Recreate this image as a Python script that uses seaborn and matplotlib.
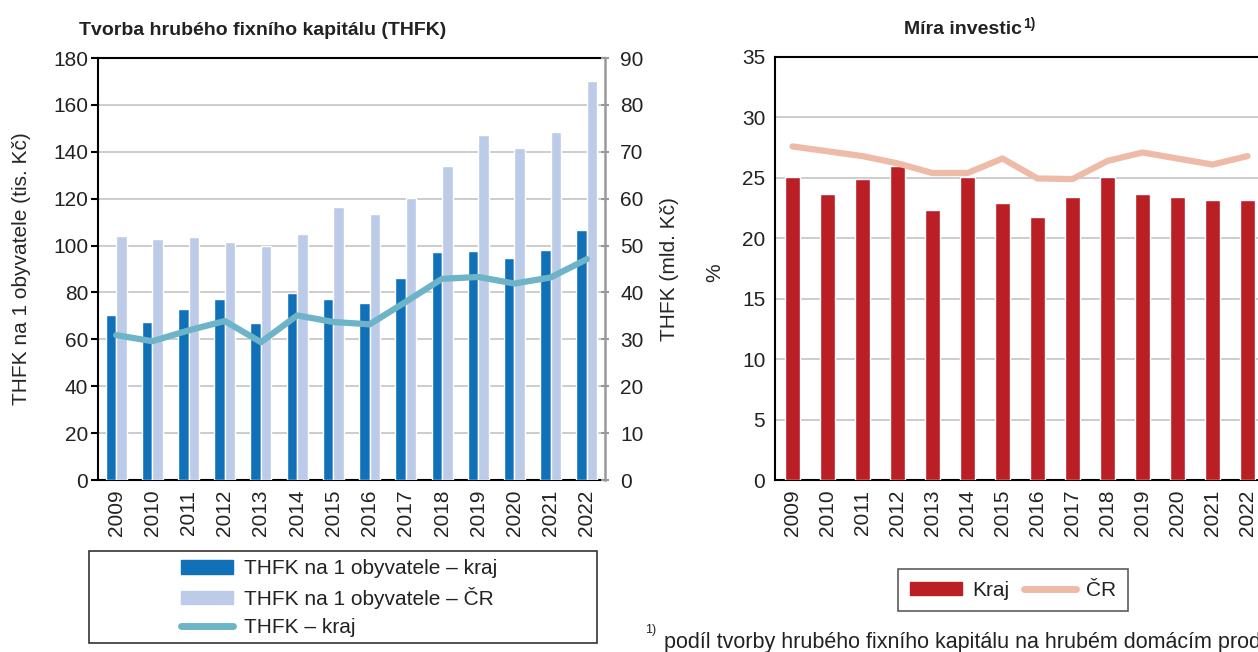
import numpy as np
import pandas as pd
import matplotlib
matplotlib.use("Agg")
import matplotlib.pyplot as plt
from matplotlib.patches import Patch, Rectangle
from matplotlib.lines import Line2D
import seaborn as sns

# data
roky = ["2009", "2010", "2011", "2012", "2013", "2014", "2015",
        "2016", "2017", "2018", "2019", "2020", "2021", "2022"]
thfk_obyv_kraj = [70.5, 67.5, 72.8, 77.2, 67.1, 79.8, 77.1,
                  75.7, 86.2, 97.2, 97.8, 94.6, 97.9, 106.5]
thfk_obyv_cr = [104.0, 103.0, 103.5, 101.6, 99.9, 104.9, 116.4,
                113.3, 120.1, 133.8, 147.1, 141.7, 148.6, 170.3]
thfk_kraj = [30.9, 29.6, 31.9, 33.9, 29.4, 35.1, 33.7,
             33.2, 38.0, 42.9, 43.3, 41.9, 43.2, 47.1]
mira_kraj = [25.1, 23.7, 24.9, 26.0, 22.3, 25.1, 22.9,
             21.8, 23.4, 25.1, 23.7, 23.4, 23.2, 23.2]
mira_cr = [27.6, 27.2, 26.8, 26.2, 25.4, 25.4, 26.6,
           24.95, 24.9, 26.4, 27.1, 26.6, 26.1, 26.8]

lbl_kraj = "THFK na 1 obyvatele – kraj"
lbl_cr = "THFK na 1 obyvatele – ČR"
lbl_line = "THFK – kraj"

c_dark = "#1070B8"
c_light = "#BCCBE8"
c_teal = "#6EB4C9"
c_red = "#BA1F26"
c_pink = "#EDBBA8"
c_grid = "#C4C4C4"

FS = 15

sns.set_style("white")
plt.rcParams["font.family"] = ["Liberation Sans", "DejaVu Sans"]
plt.rcParams["font.size"] = FS
plt.rcParams["text.color"] = "#222222"
plt.rcParams["xtick.color"] = "#222222"
plt.rcParams["ytick.color"] = "#222222"

W, H = 1258, 652
fig = plt.figure(figsize=(W / 100, H / 100), dpi=100)


def box(x0, y0, x1, y1):
    return [x0 / W, 1 - y1 / H, (x1 - x0) / W, (y1 - y0) / H]


pos = np.arange(len(roky))

# ---- left chart ----
ax = fig.add_axes(box(98, 58, 605, 480))
df = pd.DataFrame({
    "rok": roky * 2,
    "hodnota": thfk_obyv_kraj + thfk_obyv_cr,
    "serie": [lbl_kraj] * len(roky) + [lbl_cr] * len(roky),
})
sns.barplot(data=df, x="rok", y="hodnota", hue="serie",
            palette=[c_dark, c_light], width=0.58, gap=0,
            saturation=1, legend=False, ax=ax, zorder=3)
ax.set_ylim(0, 180)
ax.set_yticks(np.arange(0, 181, 20))
ax.set_xlim(-0.5, len(roky) - 0.5)
ax.grid(axis="y", color=c_grid, lw=1.2, zorder=0)
ax.set_axisbelow(True)
ax.set_xlabel("")
ax.set_ylabel("THFK na 1 obyvatele (tis. Kč)", fontsize=FS)
ax.yaxis.set_label_coords(-0.132, 0.5)
ax.tick_params(axis="x", which="major", length=0, labelrotation=90, pad=7, labelsize=FS)
ax.set_xticks(np.arange(-0.5, len(roky)), minor=True)
ax.tick_params(axis="x", which="minor", length=5, width=1.5, color="black")
ax.tick_params(axis="y", length=5, width=1.5, color="black", direction="out",
               pad=2, labelsize=FS)
for s in ["left", "bottom", "top"]:
    ax.spines[s].set_color("black")
    ax.spines[s].set_linewidth(1.5)
ax.spines["right"].set_visible(False)

ax2 = ax.twinx()
sns.lineplot(x=pos, y=thfk_kraj, color=c_teal, lw=4.5, ax=ax2,
             solid_capstyle="round", zorder=4)
ax2.set_ylim(0, 90)
ax2.set_yticks(np.arange(0, 91, 10))
ax2.set_xlim(-0.5, len(roky) - 0.5)
ax2.set_ylabel("THFK (mld. Kč)", fontsize=FS)
ax2.yaxis.set_label_coords(1.108, 0.5)
ax2.tick_params(axis="y", length=6, width=1.5, color="#999999", direction="inout",
                pad=8, labelsize=FS)
ax2.spines["right"].set_color("#999999")
ax2.spines["right"].set_linewidth(1.8)
for s in ["left", "bottom", "top"]:
    ax2.spines[s].set_visible(False)

fig.text(263 / W, 1 - 35 / H, "Tvorba hrubého fixního kapitálu (THFK)",
         ha="center", va="baseline", fontsize=14, fontweight="bold")

# left legend with its own box
fig.add_artist(Rectangle((89 / W, 1 - 643 / H), (597 - 89) / W, (643 - 551) / H,
                         transform=fig.transFigure, fill=False,
                         edgecolor="#333333", lw=1.2))
h_left = [Patch(color=c_dark, label=lbl_kraj),
          Patch(color=c_light, label=lbl_cr),
          Line2D([0], [0], color=c_teal, lw=5, solid_capstyle="round", label=lbl_line)]
fig.legend(handles=h_left, loc="center left", bbox_to_anchor=(181 / W, 1 - 598 / H),
           frameon=False, fontsize=FS, handlelength=2.5, handleheight=0.6,
           labelspacing=0.42, handletextpad=0.5, borderpad=0, borderaxespad=0)

# ---- right chart ----
bx = fig.add_axes(box(775, 57, 1265, 480))
sns.barplot(x=roky, y=mira_kraj, color=c_red, width=0.42, saturation=1,
            ax=bx, zorder=3)
sns.lineplot(x=pos, y=mira_cr, color=c_pink, lw=4.5, ax=bx,
             solid_capstyle="round", zorder=4)
bx.set_ylim(0, 35)
bx.set_yticks(np.arange(0, 36, 5))
bx.set_xlim(-0.5, len(roky) - 0.5)
bx.grid(axis="y", color=c_grid, lw=1.2, zorder=0)
bx.set_axisbelow(True)
bx.set_ylabel("%", fontsize=FS)
bx.yaxis.set_label_coords(-0.104, 0.49)
bx.tick_params(axis="x", which="major", length=0, labelrotation=90, pad=7, labelsize=FS)
bx.set_xticks(np.arange(-0.5, len(roky)), minor=True)
bx.tick_params(axis="x", which="minor", length=5, width=1.5, color="black")
bx.tick_params(axis="y", length=5, width=1.5, color="black", direction="out",
               pad=2, labelsize=FS)
for s in ["left", "bottom", "top"]:
    bx.spines[s].set_color("black")
    bx.spines[s].set_linewidth(1.5)
bx.spines["right"].set_visible(False)

fig.text(1022 / W, 1 - 34 / H, "Míra investic", ha="right", va="baseline",
         fontsize=14, fontweight="bold")
fig.text(1023 / W, 1 - 28 / H, "1)", ha="left", va="baseline",
         fontsize=10, fontweight="bold")

h_right = [Patch(color=c_red, label="Kraj"),
           Line2D([0], [0], color=c_pink, lw=5, solid_capstyle="round", label="ČR")]
leg = fig.legend(handles=h_right, loc="center", bbox_to_anchor=(1013 / W, 1 - 590 / H),
                 ncol=2, fontsize=FS, handlelength=2.5, handleheight=0.6,
                 columnspacing=0.7, handletextpad=0.5, fancybox=False,
                 edgecolor="#333333", borderpad=0.55)
leg.get_frame().set_linewidth(1.2)

# footnote (runs off the right edge in the reference as well)
fig.text(645 / W, 1 - 636 / H, "1)", ha="left", va="bottom", fontsize=9)
fig.text(664 / W, 1 - 648 / H,
         "podíl tvorby hrubého fixního kapitálu na hrubém domácím produktu",
         ha="left", va="baseline", fontsize=15.5)

fig.savefig("out.png", dpi=100)
